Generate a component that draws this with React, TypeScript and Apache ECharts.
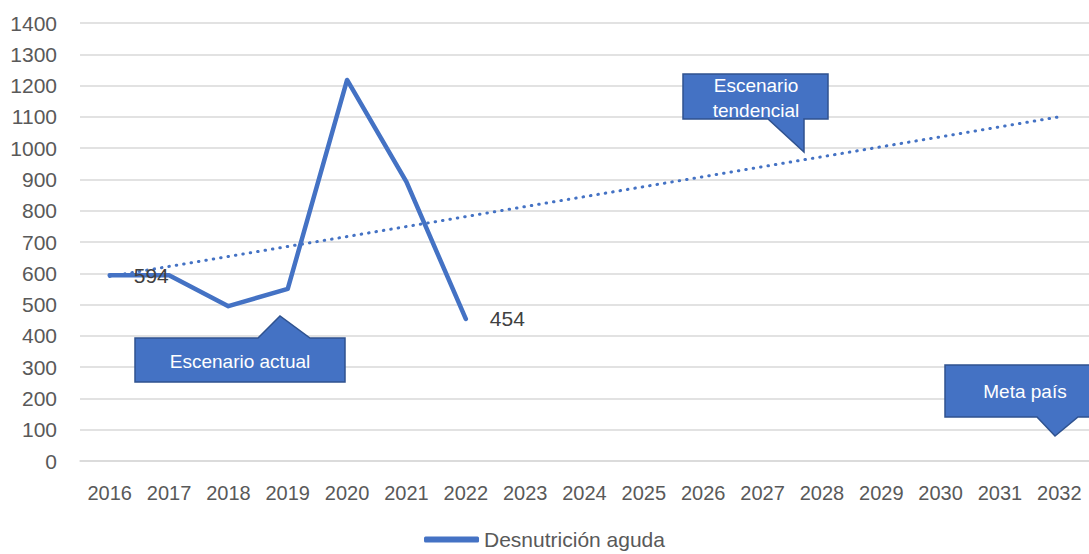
import React, { useEffect, useRef } from "react";
import * as echarts from "echarts";

const years = ["2016","2017","2018","2019","2020","2021","2022","2023","2024","2025","2026","2027","2028","2029","2030","2031","2032"];
const actual: (number | null)[] = [594, 594, 495, 550, 1218, 892, 454, null, null, null, null, null, null, null, null, null, null];
const trendEnds: (number | null)[] = [590, null, null, null, null, null, null, null, null, null, null, null, null, null, null, null, 1100];
const seriesName = "Desnutrición aguda";
const yTicks = { min: 0, max: 1400, interval: 100 };
const labelledIdx = [0, 6];

const BLUE = "#4472C4";
const DARK = "#2F528F";
const FONT = "Liberation Sans";

export default function App() {
  const ref = useRef<HTMLDivElement>(null);
  useEffect(() => {
    const chart = echarts.init(ref.current!, null, { renderer: "svg" });
    const calloutStyle = { fill: BLUE, stroke: DARK, lineWidth: 1.5 };
    const textStyle = { fill: "#fff", fontSize: 19, fontFamily: FONT, align: "center", verticalAlign: "middle" };
    chart.setOption({
      animation: false,
      grid: { left: 80, right: -11, top: 23, bottom: 93, containLabel: false },
      legend: {
        top: 529,
        left: "center",
        padding: 0,
        itemWidth: 55,
        itemHeight: 6,
        itemGap: 5,
        icon: "roundRect",
        textStyle: { fontFamily: FONT, fontSize: 21, color: "#595959" },
        data: [seriesName],
      },
      xAxis: {
        type: "category",
        data: years,
        boundaryGap: true,
        axisLine: { lineStyle: { color: "#d9d9d9", width: 1.5 } },
        axisTick: { show: false },
        axisLabel: { fontFamily: FONT, fontSize: 20, color: "#595959", margin: 22, interval: 0 },
      },
      yAxis: {
        type: "value",
        ...yTicks,
        axisLine: { show: false },
        axisTick: { show: false },
        splitLine: { lineStyle: { color: "#d9d9d9", width: 1.5 } },
        axisLabel: { fontFamily: FONT, fontSize: 21, color: "#595959", margin: 23, formatter: (v: number) => String(v) },
      },
      series: [
        {
          name: "trend",
          type: "line",
          data: trendEnds,
          connectNulls: true,
          symbol: "none",
          lineStyle: { color: BLUE, width: 3, type: [0.5, 7], cap: "round" },
          z: 1,
        },
        {
          name: seriesName,
          type: "line",
          data: actual,
          symbol: "circle",
          symbolSize: 0.1,
          showSymbol: true,
          lineStyle: { color: BLUE, width: 4.5, cap: "round", join: "round" },
          itemStyle: { color: BLUE },
          z: 2,
          label: {
            show: true,
            position: "right",
            distance: 24,
            offset: [0, 2],
            fontFamily: FONT,
            fontSize: 21,
            color: "#404040",
            formatter: (p: any) => (labelledIdx.includes(p.dataIndex) ? String(p.value) : ""),
          },
          labelLayout: { hideOverlap: false },
        },
      ],
      graphic: [
        { type: "polygon", shape: { points: [[135, 338], [258, 338], [280, 316], [310, 338], [345, 338], [345, 382], [135, 382]] }, style: calloutStyle, z: 10 },
        { type: "text", x: 240, y: 361, style: { ...textStyle, text: "Escenario actual" }, z: 11 },
        { type: "polygon", shape: { points: [[683, 74], [828, 74], [828, 119], [804, 119], [804, 152], [768, 119], [683, 119]] }, style: calloutStyle, z: 10 },
        { type: "text", x: 756, y: 85, style: { ...textStyle, text: "Escenario" }, z: 11 },
        { type: "text", x: 756, y: 110, style: { ...textStyle, text: "tendencial" }, z: 11 },
        { type: "polygon", shape: { points: [[945, 365], [1095, 365], [1095, 417], [1078, 417], [1055, 436], [1037, 417], [945, 417]] }, style: calloutStyle, z: 10 },
        { type: "text", x: 1025, y: 391, style: { ...textStyle, text: "Meta país" }, z: 11 },
      ],
    });
    return () => chart.dispose();
  }, []);
  return <div ref={ref} style={{ position: "fixed", left: 0, top: 0, width: 1089, height: 554, background: "#fff" }} />;
}
